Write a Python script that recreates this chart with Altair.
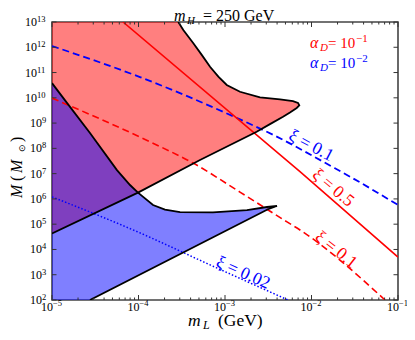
import altair as alt
import numpy as np
import pandas as pd

# ---------------- data (log10 values) ----------------
# boundary of the alpha_D = 0.1 region (red): upper curve, tip, lower edge
red_bound_lx = [-3.540, -3.482, -3.366, -3.269, -3.173, -3.077, -2.980, -2.827, -2.595,
                -2.364, -2.214, -2.156, -2.141, -2.171, -2.249, -2.329, -2.480, -2.634,
                -3.289, -4.006, -5.0]
red_bound_ly = [13.0, 12.68, 12.16, 11.70, 11.23, 10.84, 10.51, 10.24, 10.02,
                9.94, 9.87, 9.80, 9.70, 9.60, 9.42, 9.25, 8.96, 8.66,
                7.54, 6.25, 4.63]
# boundary of the alpha_D = 0.01 region (blue)
blue_bound_lx = [-5.0, -4.827, -4.561, -4.249, -4.098, -4.006, -3.832, -3.694, -3.520,
                 -3.139, -2.746, -2.514, -2.399, -2.503, -4.561]
blue_bound_ly = [10.58, 9.80, 8.61, 7.14, 6.55, 6.25, 5.76, 5.58, 5.48,
                 5.47, 5.56, 5.68, 5.72, 5.59, 2.0]

# xi curves
red_solid_lx = [-4.179, -2.133, -1.0]          # xi = 0.5, alpha 0.1
red_solid_ly = [13.0, 7.08, 3.70]
red_dash_lx = [-5.0, -3.867, -3.370, -2.827, -2.283, -2.133, -1.150]   # xi = 0.1, alpha 0.1
red_dash_ly = [9.99, 8.26, 7.42, 6.27, 5.09, 4.77, 2.0]
blue_dash_lx = [-5.0, -3.983, -2.861, -2.441, -1.728, -1.555, -1.0]   # xi = 0.1, alpha 0.01
blue_dash_ly = [12.05, 10.82, 9.20, 8.53, 7.21, 6.88, 5.76]
blue_dot_lx = [-5.0, -4.006, -3.173, -2.272]          # xi = 0.02, alpha 0.01
blue_dot_ly = [6.08, 4.69, 3.39, 2.0]

# curve labels
lab_text = ["ξ = 0.1", "ξ = 0.5", "ξ = 0.1", "ξ = 0.02"]
lab_color = ["blue", "red", "red", "blue"]
lab_lx = [-2.005, -1.751, -1.717, -2.792]
lab_ly = [8.10, 6.43, 3.98, 3.07]
lab_angle = [28, 40, 38, 24]

# ticks
x_ticks = [1e-5, 1e-4, 1e-3, 1e-2, 1e-1]
x_exp = ["−5", "−4", "−3", "−2", "−1"]
y_ticks_1 = [1e2, 1e3, 1e4, 1e5, 1e6, 1e7, 1e8, 1e9]
y_exp_1 = ["2", "3", "4", "5", "6", "7", "8", "9"]
y_ticks_2 = [1e10, 1e11, 1e12, 1e13]
y_exp_2 = ["10", "11", "12", "13"]
x_minor = [m * 10.0 ** e for e in range(-5, -1) for m in range(2, 10)]

# ---------------- chart ----------------
W, H = 346, 278
SERIF = "Liberation Serif"
xs = alt.Scale(type="log", domain=[1e-5, 1e-1])
ys = alt.Scale(type="log", domain=[1e2, 1e13])
XE = alt.X("x:Q", scale=xs, axis=None)
YE = alt.Y("y:Q", scale=ys, axis=None)


def frame(lx, ly):
    lx = np.asarray(lx, dtype=float)
    ly = np.asarray(ly, dtype=float)
    return pd.DataFrame({"x": 10.0 ** lx, "y": 10.0 ** ly, "i": np.arange(len(lx))})


def poly(lx, ly, color):
    return alt.Chart(frame(lx, ly)).mark_line(
        fill=color, fillOpacity=0.5, stroke="transparent", strokeWidth=0, clip=True
    ).encode(x=XE, y=YE, order="i:Q")


def curve(lx, ly, color, width=1.6, dash=None, interp="linear"):
    kw = dict(color=color, strokeWidth=width, clip=True, interpolate=interp)
    if dash:
        kw["strokeDash"] = dash
    return alt.Chart(frame(lx, ly)).mark_line(**kw).encode(x=XE, y=YE, order="i:Q")


one = pd.DataFrame({"k": [0]})


def label(s, px, py, size, color="black", style="normal", angle=0, align="left"):
    return alt.Chart(one).mark_text(
        text=s, fontSize=size, color=color, fontStyle=style, angle=angle,
        font=SERIF, align=align, baseline="alphabetic"
    ).encode(x=alt.value(px), y=alt.value(py))


layers = []
layers.append(poly([-5.0] + red_bound_lx, [13.0] + red_bound_ly, "red"))
layers.append(poly(blue_bound_lx + [-5.0], blue_bound_ly + [2.0], "blue"))
layers.append(curve(red_dash_lx, red_dash_ly, "red", 1.6, [7, 4], "monotone"))
layers.append(curve(blue_dash_lx, blue_dash_ly, "blue", 1.8, [7, 4], "monotone"))
layers.append(curve(red_solid_lx, red_solid_ly, "red", 1.6))
layers.append(curve(blue_dot_lx, blue_dot_ly, "blue", 1.5, [1.5, 2], "monotone"))
layers.append(curve(red_bound_lx, red_bound_ly, "black", 1.8))
layers.append(curve(blue_bound_lx, blue_bound_ly, "black", 1.8))

# curve labels
labdf = pd.DataFrame({"x": 10.0 ** np.array(lab_lx), "y": 10.0 ** np.array(lab_ly),
                      "t": lab_text, "c": lab_color, "a": lab_angle})
layers.append(alt.Chart(labdf).mark_text(font=SERIF, fontSize=17.5, baseline="middle", align="center").encode(
    x=XE, y=YE, text="t:N", color=alt.Color("c:N", scale=None), angle=alt.Angle("a:Q", scale=None)))

# legend-like annotation
for row, (col, ex) in enumerate([("red", "−1"), ("blue", "−2")]):
    b = 26 + 20 * row
    layers.append(label("α", 258, b, 16, col, "italic"))
    layers.append(label("D", 268, b + 3, 11, col, "italic"))
    layers.append(label("= 10", 276, b, 15, col))
    layers.append(label(ex, 304, b - 6, 11, col))

# title
layers.append(label("m", 122, -1, 16, style="italic"))
layers.append(label("H", 135, 2, 11, style="italic"))
layers.append(label("= 250 GeV", 151, -1, 16))

# x title
layers.append(label("m", 136, 304, 17.5, style="italic"))
layers.append(label("L", 151, 307, 12, style="italic"))
layers.append(label("(GeV)", 166, 304, 17.5))

# y title (rotated)
layers.append(label("M", -30, 176, 16, style="italic", angle=270))
layers.append(label("(", -30, 159, 16, angle=270))
layers.append(label("M", -30, 151, 16, style="italic", angle=270))
layers.append(label("⊙", -27, 130, 9, angle=270))
layers.append(label(")", -30, 120, 16, angle=270))

# tick labels
xt = pd.DataFrame({"x": x_ticks, "e": x_exp})
layers.append(alt.Chart(xt).mark_text(text="10", font=SERIF, fontSize=12, align="center", dx=-5,
                                      baseline="alphabetic").encode(x=XE, y=alt.value(H + 11)))
layers.append(alt.Chart(xt).mark_text(font=SERIF, fontSize=8.5, align="left", dx=1,
                                      baseline="alphabetic").encode(x=XE, y=alt.value(H + 6), text="e:N"))
for ticks, exps, xpos in [(y_ticks_1, y_exp_1, -10), (y_ticks_2, y_exp_2, -15)]:
    yt = pd.DataFrame({"y": ticks, "e": exps})
    layers.append(alt.Chart(yt).mark_text(text="10", font=SERIF, fontSize=12, align="right", dy=4,
                                          baseline="alphabetic").encode(x=alt.value(xpos), y=YE))
    layers.append(alt.Chart(yt).mark_text(font=SERIF, fontSize=8.5, align="left", dy=0,
                                          baseline="alphabetic").encode(x=alt.value(xpos), y=YE, text="e:N"))

# inward ticks
TC = "#333333"
xmaj = pd.DataFrame({"x": x_ticks})
xmin = pd.DataFrame({"x": x_minor})
for d, ln in [(xmaj, 5), (xmin, 2.5)]:
    layers.append(alt.Chart(d).mark_rule(color=TC, strokeWidth=1).encode(
        x=XE, y=alt.value(H), y2=alt.value(H - ln)))
    layers.append(alt.Chart(d).mark_rule(color=TC, strokeWidth=1).encode(
        x=XE, y=alt.value(0), y2=alt.value(ln)))
ymaj = pd.DataFrame({"y": y_ticks_1 + y_ticks_2})
layers.append(alt.Chart(ymaj).mark_rule(color=TC, strokeWidth=1).encode(
    y=YE, x=alt.value(0), x2=alt.value(4.5)))
layers.append(alt.Chart(ymaj).mark_rule(color=TC, strokeWidth=1).encode(
    y=YE, x=alt.value(W), x2=alt.value(W - 4.5)))

chart = alt.layer(*layers).properties(
    width=W, height=H,
    padding={"left": 44, "top": 14, "right": 9, "bottom": 32},
    autosize="none", background="white",
).configure_view(stroke="#444444", strokeWidth=1.6)

chart.save("out.html", embed_options={"renderer": "svg", "actions": False})
